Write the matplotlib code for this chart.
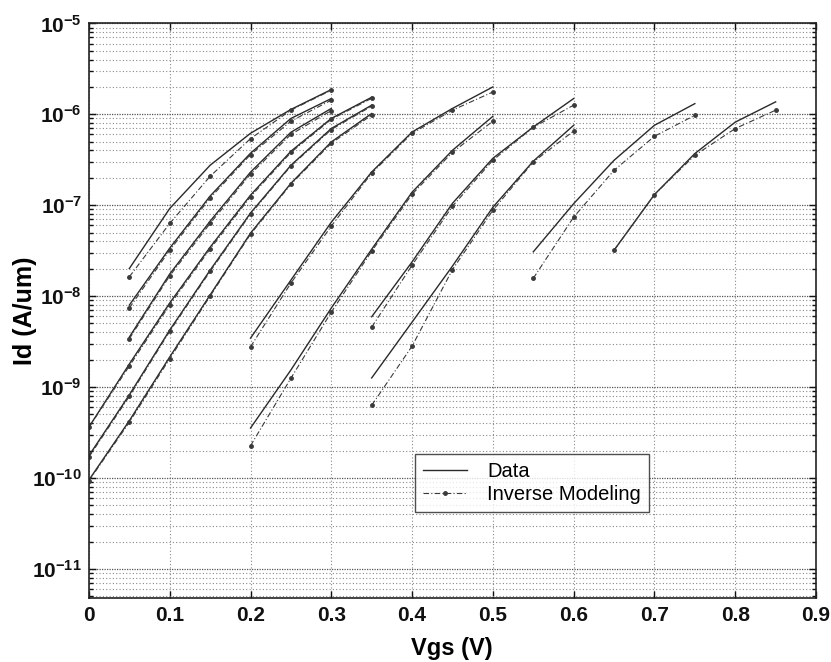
import math
import matplotlib
matplotlib.use("Agg")
import matplotlib.pyplot as plt
from matplotlib import font_manager
from matplotlib.lines import Line2D
from matplotlib.ticker import (LogLocator, MultipleLocator, FixedLocator,
                               FuncFormatter, NullFormatter)

# ── 데이터 ─────────────────────────────────────────────────────────
# 0.05 V 에서 시작하는 곡선 3개
vgs_a = [0.05, 0.10, 0.15, 0.20, 0.25, 0.30]
id_g_data  = [2.01e-8, 9.2e-8, 2.75e-7, 6.18e-7, 1.13e-6, 1.87e-6]
id_g_model = [1.63e-8, 6.3e-8, 2.08e-7, 5.4e-7, 1.11e-6, 1.84e-6]
id_h_data  = [7.96e-9, 3.37e-8, 1.26e-7, 3.73e-7, 9.0e-7, 1.49e-6]
id_h_model = [7.4e-9, 3.2e-8, 1.2e-7, 3.6e-7, 8.4e-7, 1.43e-6]
id_i_data  = [3.54e-9, 1.75e-8, 6.67e-8, 2.31e-7, 6.34e-7, 1.16e-6]
id_i_model = [3.4e-9, 1.67e-8, 6.3e-8, 2.2e-7, 6.0e-7, 1.1e-6]

# 0 V 에서 시작하는 곡선 3개
vgs_b = [0.0, 0.05, 0.10, 0.15, 0.20, 0.25, 0.30, 0.35]
id_j_data  = [3.63e-10, 1.79e-9, 8.4e-9, 3.45e-8, 1.29e-7, 3.92e-7, 9.0e-7, 1.54e-6]
id_j_model = [3.6e-10, 1.7e-9, 8.0e-9, 3.3e-8, 1.24e-7, 3.8e-7, 8.8e-7, 1.5e-6]
id_k_data  = [1.76e-10, 8.2e-10, 4.23e-9, 1.93e-8, 8.2e-8, 2.75e-7, 6.97e-7, 1.26e-6]
id_k_model = [1.7e-10, 7.9e-10, 4.1e-9, 1.87e-8, 8.0e-8, 2.7e-7, 6.8e-7, 1.23e-6]
id_l_data  = [9.5e-11, 4.26e-10, 2.14e-9, 1.03e-8, 4.92e-8, 1.74e-7, 4.96e-7, 1.02e-6]
id_l_model = [9.3e-11, 4.1e-10, 2.05e-9, 1.0e-8, 4.8e-8, 1.7e-7, 4.8e-7, 9.8e-7]

# 0.2 V ~ 0.5 V
vgs_c = [0.20, 0.25, 0.30, 0.35, 0.40, 0.45, 0.50]
id_m_data  = [3.45e-9, 1.5e-8, 6.5e-8, 2.32e-7, 6.38e-7, 1.16e-6, 2.0e-6]
id_m_model = [2.77e-9, 1.39e-8, 5.9e-8, 2.25e-7, 6.18e-7, 1.11e-6, 1.76e-6]
id_n_data  = [3.54e-10, 1.54e-9, 7.4e-9, 3.28e-8, 1.39e-7, 4.02e-7, 9.5e-7]
id_n_model = [2.26e-10, 1.25e-9, 6.67e-9, 3.12e-8, 1.32e-7, 3.82e-7, 8.4e-7]

# 0.35 V ~ 0.6 V
vgs_d = [0.35, 0.40, 0.45, 0.50, 0.55, 0.60]
id_p_data  = [5.93e-9, 2.38e-8, 1.05e-7, 3.28e-7, 7.25e-7, 1.49e-6]
id_p_model = [4.56e-9, 2.19e-8, 9.75e-8, 3.12e-7, 7.2e-7, 1.26e-6]
id_q_data  = [1.26e-9, 5.18e-9, 2.14e-8, 9.5e-8, 3.05e-7, 7.57e-7]
id_q_model = [6.3e-10, 2.82e-9, 1.96e-8, 8.8e-8, 2.99e-7, 6.55e-7]

# 0.55 V ~ 0.75 V
vgs_e = [0.55, 0.60, 0.65, 0.70, 0.75]
id_r_data  = [3.07e-8, 1.04e-7, 3.12e-7, 7.57e-7, 1.31e-6]
id_r_model = [1.57e-8, 7.4e-8, 2.42e-7, 5.73e-7, 9.75e-7]

# 0.65 V ~ 0.85 V
vgs_f = [0.65, 0.70, 0.75, 0.80, 0.85]
id_s_data  = [3.2e-8, 1.31e-7, 3.7e-7, 8.2e-7, 1.37e-6]
id_s_model = [3.2e-8, 1.31e-7, 3.54e-7, 6.97e-7, 1.11e-6]

y_ticks = [1e-11, 1e-10, 1e-9, 1e-8, 1e-7, 1e-6, 1e-5]

curves = [
    (vgs_a, id_g_data, id_g_model), (vgs_a, id_h_data, id_h_model),
    (vgs_a, id_i_data, id_i_model), (vgs_b, id_j_data, id_j_model),
    (vgs_b, id_k_data, id_k_model), (vgs_b, id_l_data, id_l_model),
    (vgs_c, id_m_data, id_m_model), (vgs_c, id_n_data, id_n_model),
    (vgs_d, id_p_data, id_p_model), (vgs_d, id_q_data, id_q_model),
    (vgs_e, id_r_data, id_r_model), (vgs_f, id_s_data, id_s_model),
]

# ── 폰트 ─────────────────────────────────────────────────────────────────
_names = {f.name for f in font_manager.fontManager.ttflist}
NARROW = "Liberation Sans Narrow" if "Liberation Sans Narrow" in _names else "Liberation Sans"
plt.rcParams["font.family"] = ["Liberation Sans", "DejaVu Sans"]
plt.rcParams["mathtext.fontset"] = "custom"
plt.rcParams["mathtext.rm"] = "Liberation Sans:bold"
plt.rcParams["mathtext.bf"] = "Liberation Sans:bold"

# ── 그림 ─────────────────────────────────────────────────────────────────
fig = plt.figure(figsize=(8.31, 6.62), dpi=100)
ax = fig.add_axes([0.107, 0.0967, 0.875, 0.868])

data_kw = dict(color="#2a2a2a", linewidth=1.0, linestyle="-")
model_kw = dict(color="#3a3a3a", linewidth=0.8, linestyle=(0, (5, 2, 1, 2)),
                marker=".", markersize=5)

for vgs, d, m in curves:
    ax.plot(vgs, d, **data_kw)
    ax.plot(vgs, m, **model_kw)

ax.set_yscale("log")
ax.set_xlim(0, 0.9)
ax.set_ylim(10 ** -11.32, 1e-5)

ax.xaxis.set_major_locator(MultipleLocator(0.1))
ax.xaxis.set_major_formatter(FuncFormatter(lambda v, p: "0" if abs(v) < 1e-9 else f"{v:.1f}"))
ax.yaxis.set_major_locator(FixedLocator(y_ticks))
ax.yaxis.set_minor_locator(LogLocator(base=10, subs=range(2, 10), numticks=100))
ax.yaxis.set_minor_formatter(NullFormatter())
ax.yaxis.set_major_formatter(
    FuncFormatter(lambda v, p: r"$\mathbf{10^{-%d}}$" % round(-math.log10(v)))
)

ax.tick_params(axis="both", which="both", direction="in", top=True, right=True,
               width=1.0, colors="#111111")
ax.tick_params(axis="both", which="major", length=5)
ax.tick_params(axis="y", which="minor", length=3)
ax.tick_params(axis="x", which="major", labelsize=15, pad=6)
ax.tick_params(axis="y", which="major", labelsize=15, pad=5)
for lab in ax.get_xticklabels():
    lab.set_family(NARROW)
    lab.set_fontweight("bold")

ax.grid(True, which="major", axis="x", color="#8a8a8a", linestyle=(0, (1, 2)), linewidth=0.8)
ax.grid(True, which="major", axis="y", color="#555555", linestyle=(0, (1, 1)), linewidth=0.9)
ax.grid(True, which="minor", axis="y", color="#8a8a8a", linestyle=(0, (1, 2)), linewidth=0.8)
ax.set_axisbelow(True)

for sp in ax.spines.values():
    sp.set_linewidth(1.2)
    sp.set_color("#222222")

# 축 제목은 그림 좌표로 직접 배치
fig.text(452 / 831, 1 - 648 / 662, "Vgs (V)", fontsize=17, fontweight="bold",
         family=NARROW, ha="center", va="center")
fig.text(25 / 831, 1 - 311 / 662, "Id (A/um)", fontsize=18, fontweight="bold",
         rotation=90, ha="center", va="center")

handles = [
    Line2D([], [], **data_kw),
    Line2D([], [], **model_kw),
]
leg = ax.legend(handles, ["Data", "Inverse Modeling"], loc="lower left",
                bbox_to_anchor=(0.448, 0.15), borderaxespad=0, fontsize=14.5,
                frameon=True, fancybox=False, edgecolor="#222222", handlelength=2.2,
                borderpad=0.4, labelspacing=0.2, handletextpad=1.0)
leg.get_frame().set_linewidth(1.0)

fig.savefig("out.png", dpi=100)
